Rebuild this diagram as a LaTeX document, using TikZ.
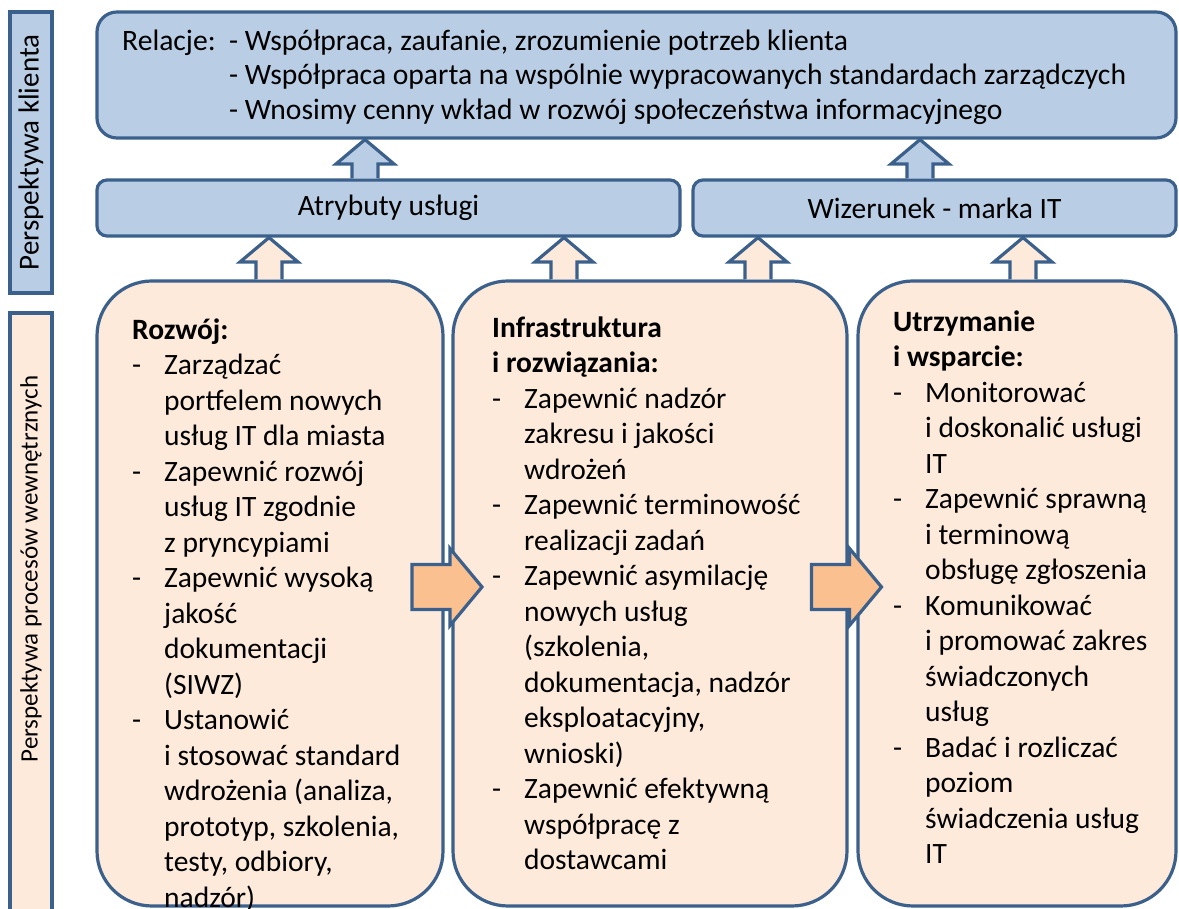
\documentclass[tikz,border=0pt]{standalone}
\usepackage{fontspec}
\setmainfont{Carlito}
\usetikzlibrary{positioning,calc}

\definecolor{frameblue}{RGB}{60,96,140}
\definecolor{skyfill}{HTML}{B9CDE5}
\definecolor{peachfill}{HTML}{FDEADA}
\definecolor{orangefill}{HTML}{FAC090}

\newcommand{\bodyfont}{\fontsize{29.5}{35.5}\selectfont}
\newcommand{\relfont}{\fontsize{29.6}{34.5}\selectfont}

% block arrow pointing up, from the top of #3 to the bottom of #4 at x=#2
\newcommand{\blockup}[4]{%
  \draw[#1] let \p1=(#2,0 |- #3.north), \p2=(#2,0 |- #4.south) in
    (\x1-13pt,\y1+1.6pt) -- (\x1-13pt,\y2-26pt) -- (\x1-29pt,\y2-26pt) -- (\x1,\y2-1.6pt)
    -- (\x1+29pt,\y2-26pt) -- (\x1+13pt,\y2-26pt) -- (\x1+13pt,\y1+1.6pt);}
% block arrow pointing right, between #2 and #3 at y=#4, moved by #5
\newcommand{\blockright}[5]{%
  \draw[#1] let \p1=($(#2.east)!0.5!(#3.west)+(#5,0)$) in
    (\x1+35pt,#4) -- (\x1+3pt,#4+38.5pt) -- (\x1+3pt,#4+22.5pt) -- (\x1-35pt,#4+22.5pt)
    -- (\x1-35pt,#4-22.5pt) -- (\x1+3pt,#4-22.5pt) -- (\x1+3pt,#4-38.5pt) -- cycle;}

\tikzset{
  box/.style={draw=frameblue, line width=3.2pt, outer sep=0pt, inner sep=0pt, anchor=north west},
  bluebox/.style={box, fill=skyfill},
  peachbox/.style={box, fill=peachfill, rounded corners=55pt, minimum height=625pt},
  sidelabel/.style={rotate=90, inner sep=0pt},
  txt/.style={inner sep=0pt, font=\bodyfont},
  uparrow/.style={draw=frameblue, line width=3.2pt, line join=miter},
  sidearrow/.style={draw=frameblue, line width=3.2pt, fill=orangefill, line join=miter},
}

\begin{document}
\begin{tikzpicture}[x=1pt,y=1pt]
\clip (0,0) rectangle (1179,909);
\fill[white] (0,0) rectangle (1179,909);

% side labels
\node[bluebox, minimum width=42pt, minimum height=281pt] (lab1) at (10,897) {};
\node[sidelabel, font=\fontsize{29}{35}\selectfont] (lab1txt) at (lab1.center) {Perspektywa klienta};
\node[box, fill=peachfill, minimum width=42pt, minimum height=640pt] (lab2) at (10,596) {};
\node[sidelabel, font=\fontsize{25}{30}\selectfont] (lab2txt) at (lab2.north |- 0,340) {Perspektywa procesów wewnętrznych};

% customer perspective
\node[bluebox, rounded corners=20pt, minimum width=1079pt, minimum height=126pt] (rel) at (97,897) {};
\node[txt, font=\relfont, below right=14pt and 25pt of rel.north west] (reltxt) {%
\begin{tabular}{@{}p{107pt}@{}l@{}}
Relacje: & - Współpraca, zaufanie, zrozumienie potrzeb klienta\\
 & - Współpraca oparta na wspólnie wypracowanych standardach zarządczych\\
 & - Wnosimy cenny wkład w rozwój społeczeństwa informacyjnego
\end{tabular}};

\node[bluebox, rounded corners=10pt, minimum width=583pt, minimum height=56pt] (atr) at (97,729) {};
\node[txt] (atrtxt) at (atr.center) {Atrybuty usługi};
\node[bluebox, rounded corners=10pt, minimum width=483pt, minimum height=56pt] (wiz) at (693,729) {};
\node[txt] (wiztxt) at (wiz.center) {Wizerunek - marka IT};

% internal processes
\node[peachbox, minimum width=346pt] (dev) at (97,628) {};
\node[peachbox, minimum width=394pt] (inf) at (453,628) {};
\node[peachbox, minimum width=318pt] (sup) at (858,628) {};

\node[txt, below right=33pt and 35pt of dev.north west] (devtxt) {%
\begin{tabular}{@{}p{32pt}@{}l@{}}
\multicolumn{2}{@{}l@{}}{\textbf{Rozwój:}}\\
- & Zarządzać\\
  & portfelem nowych\\
  & usług IT dla miasta\\
- & Zapewnić rozwój\\
  & usług IT zgodnie\\
  & z pryncypiami\\
- & Zapewnić wysoką\\
  & jakość\\
  & dokumentacji\\
  & (SIWZ)\\
- & Ustanowić\\
  & i stosować standard\\
  & wdrożenia (analiza,\\
  & prototyp, szkolenia,\\
  & testy, odbiory,\\
  & nadzór)
\end{tabular}};

\node[txt, below right=31pt and 39pt of inf.north west] (inftxt) {%
\begin{tabular}{@{}p{32pt}@{}l@{}}
\multicolumn{2}{@{}l@{}}{\textbf{Infrastruktura}}\\
\multicolumn{2}{@{}l@{}}{\textbf{i rozwiązania:}}\\
- & Zapewnić nadzór\\
  & zakresu i jakości\\
  & wdrożeń\\
- & Zapewnić terminowość\\
  & realizacji zadań\\
- & Zapewnić asymilację\\
  & nowych usług\\
  & (szkolenia,\\
  & dokumentacja, nadzór\\
  & eksploatacyjny,\\
  & wnioski)\\
- & Zapewnić efektywną\\
  & współpracę z\\
  & dostawcami
\end{tabular}};

\node[txt, below right=25pt and 35pt of sup.north west] (suptxt) {%
\begin{tabular}{@{}p{32pt}@{}l@{}}
\multicolumn{2}{@{}l@{}}{\textbf{Utrzymanie}}\\
\multicolumn{2}{@{}l@{}}{\textbf{i wsparcie:}}\\
- & Monitorować\\
  & i doskonalić usługi\\
  & IT\\
- & Zapewnić sprawną\\
  & i terminową\\
  & obsługę zgłoszenia\\
- & Komunikować\\
  & i promować zakres\\
  & świadczonych\\
  & usług\\
- & Badać i rozliczać\\
  & poziom\\
  & świadczenia usług\\
  & IT
\end{tabular}};

% arrows
\blockup{uparrow, fill=skyfill}{365}{atr}{rel}
\blockup{uparrow, fill=skyfill}{920}{wiz}{rel}
\blockup{uparrow, fill=peachfill}{269}{dev}{atr}
\blockup{uparrow, fill=peachfill}{564}{inf}{atr}
\blockup{uparrow, fill=peachfill}{758}{inf}{wiz}
\blockup{uparrow, fill=peachfill}{1023}{sup}{wiz}
\blockright{sidearrow}{dev}{inf}{322}{-1pt}
\blockright{sidearrow}{inf}{sup}{322}{-6pt}
\end{tikzpicture}
\end{document}
